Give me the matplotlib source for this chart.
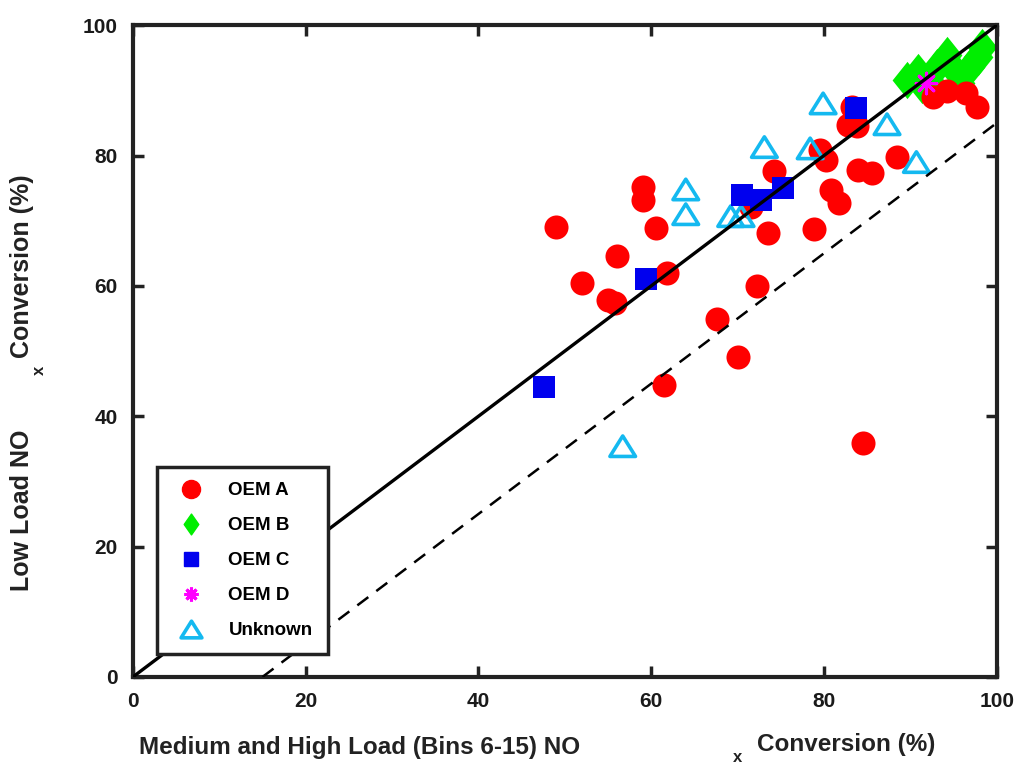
import matplotlib
matplotlib.use("Agg")
import matplotlib.pyplot as plt
from matplotlib.path import Path
from matplotlib.lines import Line2D

plt.rcParams['font.family'] = ['Liberation Sans', 'DejaVu Sans']
plt.rcParams['font.weight'] = 'bold'

# OEM A (red circles)
oem_a_x = [49.0, 52.0, 55.0, 55.8, 56.0, 59.0, 59.0, 60.5, 61.8, 61.5, 67.6, 70.1,
           72.2, 71.6, 73.5, 74.2, 78.8, 79.5, 80.2, 80.8, 81.7, 82.8, 83.3, 83.8,
           83.9, 85.6, 84.5, 88.4, 92.6, 94.3, 96.5, 97.7]
oem_a_y = [69.0, 60.4, 57.8, 57.4, 64.6, 75.2, 73.2, 68.9, 62.0, 44.8, 54.9, 49.1,
           60.0, 72.1, 68.1, 77.6, 68.7, 80.8, 79.3, 74.7, 72.7, 84.7, 87.4, 84.5,
           77.8, 77.3, 35.9, 79.8, 89.0, 89.9, 89.6, 87.4]
# OEM B (green diamonds)
oem_b_x = [89.6, 90.9, 91.4, 92.2, 93.1, 94.3, 95.4, 95.7, 96.9, 97.8, 98.3]
oem_b_y = [91.6, 92.8, 90.8, 91.6, 93.6, 95.4, 92.6, 91.1, 93.6, 95.1, 96.6]
# OEM C (blue squares)
oem_c_x = [47.6, 59.4, 70.5, 72.7, 75.2, 83.7]
oem_c_y = [44.5, 61.0, 73.9, 73.2, 75.0, 87.3]
# OEM D (magenta star)
oem_d_x = [91.8]
oem_d_y = [91.1]
# Unknown (cyan triangles)
unk_x = [56.7, 64.0, 64.0, 69.2, 70.4, 73.1, 78.4, 79.9, 87.3, 90.7]
unk_y = [35.4, 74.8, 71.0, 70.7, 70.7, 81.3, 81.1, 88.0, 84.8, 79.0]

ref_line_x = [0, 100]
offset_line_x = [15, 100]
offset = 15

RED, GREEN, BLUE, MAGENTA, CYAN = '#ff0000', '#00ee00', '#0000ee', '#ff00ff', '#14b9f0'
diamond = Path([(0, 1), (0.8, 0), (0, -1), (-0.8, 0), (0, 1)], closed=True)
thin_diamond = Path([(0, 1), (0.7, 0), (0, -1), (-0.7, 0), (0, 1)], closed=True)
triangle = Path([(0, 0.8), (1, -0.8), (-1, -0.8), (0, 0.8)], closed=True)
star = (8, 2, 0)

fig = plt.figure(figsize=(10.15, 7.64), dpi=100)
ax = fig.add_axes([0.131, 0.114, 0.851, 0.853])

ax.scatter(oem_b_x, oem_b_y, s=720, marker=diamond, color=GREEN, linewidths=0, zorder=2)
ax.scatter(oem_a_x, oem_a_y, s=300, marker='o', color=RED, linewidths=0, zorder=3)
ax.scatter(unk_x, unk_y, s=340, marker=triangle, facecolors='none', edgecolors=CYAN,
           linewidths=2.6, zorder=4)
ax.scatter(oem_c_x, oem_c_y, s=230, marker='s', color=BLUE, linewidths=0, zorder=5)
ax.scatter(oem_d_x, oem_d_y, s=220, marker=star, color=MAGENTA, linewidths=2.2, zorder=6)

ax.plot(ref_line_x, ref_line_x, color='black', lw=2.4, zorder=8)
ax.plot(offset_line_x, [v - offset for v in offset_line_x], color='black', lw=1.8,
        dashes=(5.5, 4), zorder=8)

ax.set_xlim(0, 100)
ax.set_ylim(0, 100)
ax.set_xticks([0, 20, 40, 60, 80, 100])
ax.set_yticks([0, 20, 40, 60, 80, 100])
ax.tick_params(direction='in', length=8, width=2.5, top=True, right=True,
               labelsize=15, pad=11, colors='#222222')
for lab in ax.get_xticklabels() + ax.get_yticklabels():
    lab.set_fontweight('bold')
    lab.set_color('#1a1a1a')
for sp in ax.spines.values():
    sp.set_linewidth(3)
    sp.set_color('#222222')

# legend with its own marker sizes
handles = [
    Line2D([], [], ls='none', marker='o', ms=13, mfc=RED, mec=RED),
    Line2D([], [], ls='none', marker=thin_diamond, ms=15, mfc=GREEN, mec=GREEN),
    Line2D([], [], ls='none', marker='s', ms=10.5, mfc=BLUE, mec=BLUE),
    Line2D([], [], ls='none', marker=star, ms=10, mec=MAGENTA, mew=2.2),
    Line2D([], [], ls='none', marker=triangle, ms=15, mfc='none', mec=CYAN, mew=2.6),
]
names = ['OEM A', 'OEM B', 'OEM C', 'OEM D', 'Unknown']
leg = ax.legend(handles, names, loc='lower left',
                bbox_to_anchor=(0.028, 0.035), fancybox=False, framealpha=1,
                edgecolor='#222222', labelspacing=0.95,
                borderpad=0.8, handletextpad=1.0, borderaxespad=0,
                prop={'weight': 'bold', 'size': 13.5})
leg.get_frame().set_linewidth(2.5)
leg.set_zorder(20)

lab_kw = dict(fontsize=17.5, fontweight='bold', color='#222222')
ylab_kw = dict(fontsize=18, fontweight='bold', color='#222222')
sub_kw = dict(fontsize=12, fontweight='bold', color='#222222')
fig.text(0.354, 0.021, 'Medium and High Load (Bins 6-15) NO', ha='center', va='center', **lab_kw)
fig.text(0.727, 0.009, 'x', ha='center', va='center', **sub_kw)
fig.text(0.834, 0.026, 'Conversion (%)', ha='center', va='center', **lab_kw)
fig.text(0.0217, 0.3325, 'Low Load NO', rotation=90, ha='center', va='center', **ylab_kw)
fig.text(0.039, 0.515, 'x', rotation=90, ha='center', va='center', **sub_kw)
fig.text(0.0217, 0.651, 'Conversion (%)', rotation=90, ha='center', va='center', **ylab_kw)

fig.savefig('out.png', dpi=100)
